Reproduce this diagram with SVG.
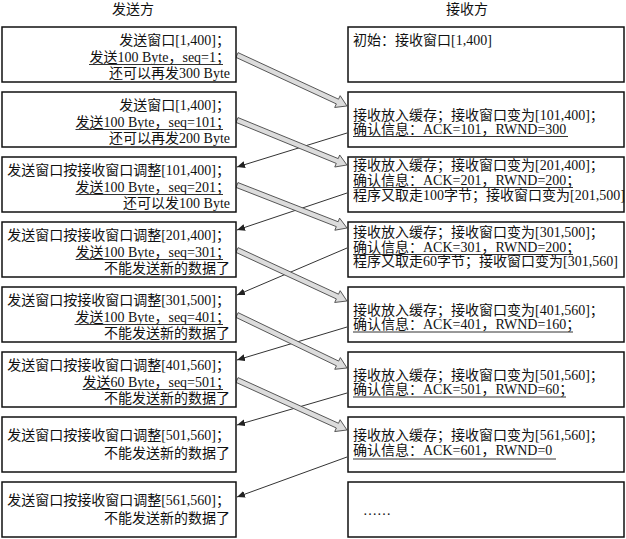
<svg xmlns="http://www.w3.org/2000/svg" width="626" height="539" viewBox="0 0 626 539">
<style>
text{font-family:"Liberation Serif","Noto Sans CJK SC",serif;font-size:14px;fill:#111}
.box{fill:#fff;stroke:#111;stroke-width:1.5}
.l{text-anchor:end}
.h{text-anchor:middle}
.ul{stroke:#333;stroke-width:1}
.thin{stroke:#333;stroke-width:1;fill:none;marker-end:url(#ah)}
.blk{fill:#dcdcdc;stroke:#444;stroke-width:0.8;stroke-linejoin:miter}
</style>
<defs>
<marker id="ah" markerUnits="userSpaceOnUse" markerWidth="9" markerHeight="8" refX="8" refY="3.5" orient="auto">
<path d="M0,0 L8,3.5 L0,7 z" fill="#222"/>
</marker>
</defs>
<rect width="626" height="539" fill="#fff"/>
<text class="h" x="133" y="14">发送方</text>
<text class="h" x="467" y="14">接收方</text>

<g id="connectors">
<line class="thin" x1="347" y1="133" x2="237" y2="167"/>
<line class="thin" x1="347" y1="193" x2="237" y2="230"/>
<line class="thin" x1="347" y1="248" x2="237" y2="295"/>
<line class="thin" x1="347" y1="327" x2="237" y2="360"/>
<line class="thin" x1="347" y1="393" x2="237" y2="425"/>
<line class="thin" x1="347" y1="457" x2="237" y2="497"/>
<path class="blk" transform="translate(237,55) rotate(24.87)" d="M0,-2.6 L110.7,-2.6 L110.7,-6.5 L121.2,0 L110.7,6.5 L110.7,2.6 L0,2.6 Z"/>
<path class="blk" transform="translate(237,120) rotate(22.25)" d="M0,-2.6 L108.3,-2.6 L108.3,-6.5 L118.8,0 L108.3,6.5 L108.3,2.6 L0,2.6 Z"/>
<path class="blk" transform="translate(237,185) rotate(21.35)" d="M0,-2.6 L107.6,-2.6 L107.6,-6.5 L118.1,0 L107.6,6.5 L107.6,2.6 L0,2.6 Z"/>
<path class="blk" transform="translate(237,250) rotate(24.87)" d="M0,-2.6 L110.7,-2.6 L110.7,-6.5 L121.2,0 L110.7,6.5 L110.7,2.6 L0,2.6 Z"/>
<path class="blk" transform="translate(237,315) rotate(25.72)" d="M0,-2.6 L111.6,-2.6 L111.6,-6.5 L122.1,0 L111.6,6.5 L111.6,2.6 L0,2.6 Z"/>
<path class="blk" transform="translate(237,380) rotate(24.44)" d="M0,-2.6 L110.3,-2.6 L110.3,-6.5 L120.8,0 L110.3,6.5 L110.3,2.6 L0,2.6 Z"/>
</g>

<g id="s1">
<rect class="box" x="2" y="27" width="234" height="55"/>
<text class="l" x="230" y="45">发送窗口[1,400]；</text>
<text class="l" x="230" y="61.5">发送100 Byte，seq=1；</text>
<text class="l" x="230" y="78">还可以再发300 Byte</text>
<line class="ul" x1="89" y1="64.5" x2="223" y2="64.5"/>
</g>
<g id="s2">
<rect class="box" x="2" y="92" width="234" height="55"/>
<text class="l" x="230" y="110">发送窗口[1,400]；</text>
<text class="l" x="230" y="126.5">发送100 Byte，seq=101；</text>
<text class="l" x="230" y="143">还可以再发200 Byte</text>
<line class="ul" x1="75.5" y1="129.5" x2="223" y2="129.5"/>
</g>
<g id="s3">
<rect class="box" x="2" y="157" width="234" height="55"/>
<text class="l" x="230" y="175">发送窗口按接收窗口调整[101,400]；</text>
<text class="l" x="230" y="191.5">发送100 Byte，seq=201；</text>
<text class="l" x="230" y="208">还可以发100 Byte</text>
<line class="ul" x1="75.5" y1="194.5" x2="223" y2="194.5"/>
</g>
<g id="s4">
<rect class="box" x="2" y="222" width="234" height="55"/>
<text class="l" x="230" y="240">发送窗口按接收窗口调整[201,400]；</text>
<text class="l" x="230" y="256.5">发送100 Byte，seq=301；</text>
<text class="l" x="230" y="273">不能发送新的数据了</text>
<line class="ul" x1="75.5" y1="259.5" x2="223" y2="259.5"/>
</g>
<g id="s5">
<rect class="box" x="2" y="287" width="234" height="55"/>
<text class="l" x="230" y="305">发送窗口按接收窗口调整[301,500]；</text>
<text class="l" x="230" y="321.5">发送100 Byte，seq=401；</text>
<text class="l" x="230" y="338">不能发送新的数据了</text>
<line class="ul" x1="74.5" y1="324.5" x2="223" y2="324.5"/>
</g>
<g id="s6">
<rect class="box" x="2" y="352" width="234" height="55"/>
<text class="l" x="230" y="370">发送窗口按接收窗口调整[401,560]；</text>
<text class="l" x="230" y="386.5">发送60 Byte，seq=501；</text>
<text class="l" x="230" y="403">不能发送新的数据了</text>
<line class="ul" x1="82.5" y1="389.5" x2="223" y2="389.5"/>
</g>
<g id="s7">
<rect class="box" x="2" y="417" width="234" height="55"/>
<text class="l" x="230" y="440">发送窗口按接收窗口调整[501,560]；</text>
<text class="l" x="230" y="458">不能发送新的数据了</text>
</g>
<g id="s8">
<rect class="box" x="2" y="482" width="234" height="55"/>
<text class="l" x="230" y="505">发送窗口按接收窗口调整[561,560]；</text>
<text class="l" x="230" y="523">不能发送新的数据了</text>
</g>

<g id="r1">
<rect class="box" x="348" y="27" width="276" height="55"/>
<text x="353" y="45">初始：接收窗口[1,400]</text>
</g>
<g id="r2">
<rect class="box" x="348" y="92" width="276" height="55"/>
<text x="353" y="120">接收放入缓存；接收窗口变为[101,400]；</text>
<text x="353" y="134">确认信息：ACK=101，RWND=300</text>
<line class="ul" x1="353" y1="136.5" x2="568" y2="136.5"/>
</g>
<g id="r3">
<rect class="box" x="348" y="157" width="276" height="55"/>
<text x="353" y="170">接收放入缓存；接收窗口变为[201,400]；</text>
<text x="353" y="185">确认信息：ACK=201，RWND=200；</text>
<text x="353" y="200">程序又取走100字节；接收窗口变为[201,500]</text>
<line class="ul" x1="353" y1="187.5" x2="573" y2="187.5"/>
</g>
<g id="r4">
<rect class="box" x="348" y="222" width="276" height="55"/>
<text x="353" y="237">接收放入缓存；接收窗口变为[301,500]；</text>
<text x="353" y="252">确认信息：ACK=301，RWND=200；</text>
<text x="353" y="266">程序又取走60字节；接收窗口变为[301,560]</text>
<line class="ul" x1="353" y1="254.5" x2="573" y2="254.5"/>
</g>
<g id="r5">
<rect class="box" x="348" y="287" width="276" height="55"/>
<text x="353" y="315">接收放入缓存；接收窗口变为[401,560]；</text>
<text x="353" y="329">确认信息：ACK=401，RWND=160；</text>
<line class="ul" x1="353" y1="332" x2="573" y2="332"/>
</g>
<g id="r6">
<rect class="box" x="348" y="352" width="276" height="55"/>
<text x="353" y="380">接收放入缓存；接收窗口变为[501,560]；</text>
<text x="353" y="394">确认信息：ACK=501，RWND=60；</text>
<line class="ul" x1="353" y1="397" x2="566" y2="397"/>
</g>
<g id="r7">
<rect class="box" x="348" y="417" width="276" height="55"/>
<text x="353" y="440">接收放入缓存；接收窗口变为[561,560]；</text>
<text x="353" y="455">确认信息：ACK=601，RWND=0</text>
<line class="ul" x1="353" y1="459" x2="556" y2="459"/>
</g>
<g id="r8">
<rect class="box" x="348" y="482" width="276" height="55"/>
<text x="363" y="515">……</text>
</g>
</svg>
